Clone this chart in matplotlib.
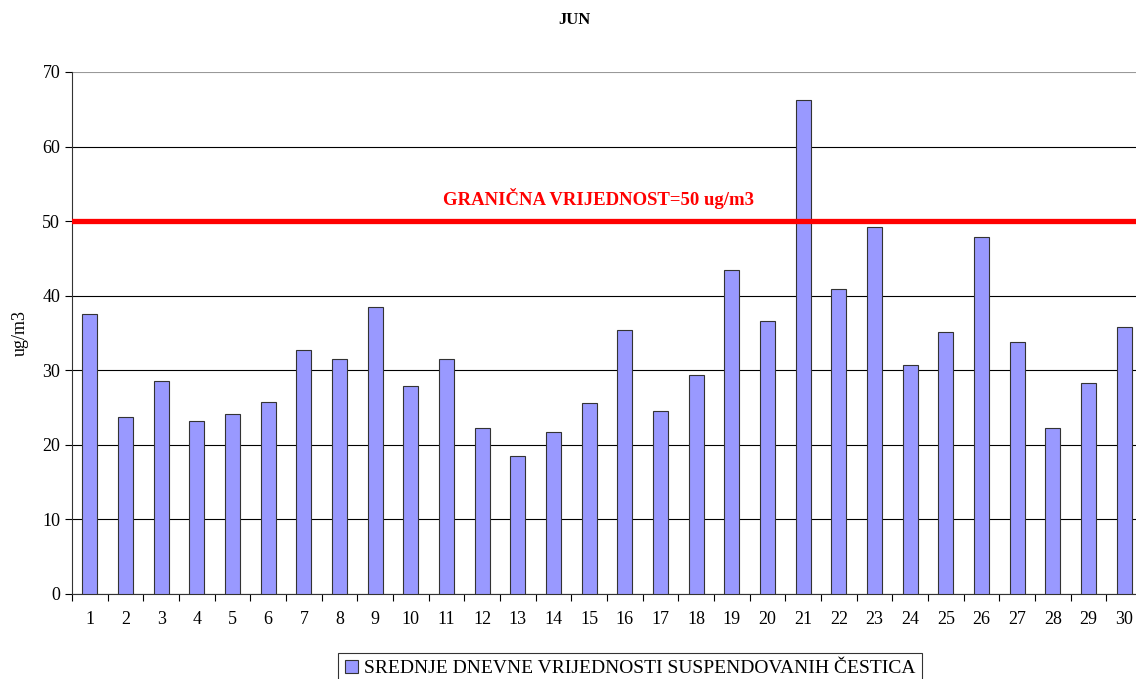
import numpy as np
from matplotlib import pyplot as plt

days = list(range(1, 31))
values = [37.5, 23.7, 28.6, 23.2, 24.1, 25.7, 32.7, 31.5, 38.5, 27.9,
          31.5, 22.3, 18.5, 21.7, 25.6, 35.4, 24.5, 29.4, 43.4, 36.6,
          66.2, 40.9, 49.2, 30.7, 35.1, 47.9, 33.8, 22.3, 28.3, 35.8]
limit = 50
yticks = [0, 10, 20, 30, 40, 50, 60, 70]

plt.rcParams['font.family'] = ['Liberation Serif', 'DejaVu Serif']

fig = plt.figure(figsize=(11.36, 6.79), dpi=100)
ax = fig.add_axes([72/1136, 85/679, 1070/1136, 522/679])

x = np.arange(len(days))
bars = ax.bar(x, values, width=0.42, color='#9999ff', edgecolor='#333333',
              linewidth=0.8, zorder=3,
              label='SREDNJE DNEVNE VRIJEDNOSTI SUSPENDOVANIH ČESTICA')
ax.axhline(limit, color='#ff0000', linewidth=3.8, zorder=4)
ax.text(9.9, 53, 'GRANIČNA VRIJEDNOST=50 ug/m3', color='#ff0000',
        fontsize=13.5, fontweight='bold', ha='left', va='center')

ax.set_xlim(-0.5, len(days) - 0.5)
ax.set_ylim(0, 70)
ax.set_yticks(yticks)
ax.set_xticks(x)
ax.set_xticklabels([str(d) for d in days], fontsize=13)
ax.set_xticks(np.arange(-0.5, len(days)), minor=True)
ax.tick_params(axis='x', which='major', length=0, pad=12)
ax.tick_params(axis='x', which='minor', length=5, width=0.8, direction='out')
ax.tick_params(axis='y', length=5, width=0.8, direction='out', labelsize=13)
ax.yaxis.grid(True, color='black', linewidth=0.8, zorder=0)
ax.get_ygridlines()[-1].set_color('#999999')
for s in ['top', 'right']:
    ax.spines[s].set_visible(False)
ax.spines['left'].set_color('#333333')
ax.spines['bottom'].set_color('#333333')
ax.set_ylabel('ug/m3', fontsize=13, labelpad=10)

fig.text(574/1136, 1 - 20/679, 'JUN', fontsize=12, fontweight='bold',
         ha='center', va='center')

leg = fig.legend(handles=[bars], loc='upper center',
                 bbox_to_anchor=(630/1136, 1 - 653/679), fontsize=14,
                 frameon=True, fancybox=False, edgecolor='black',
                 handlelength=0.7, handleheight=0.7, handletextpad=0.3,
                 borderpad=0.35, borderaxespad=0)
leg.get_frame().set_linewidth(0.8)

fig.savefig('out.png', dpi=100)
